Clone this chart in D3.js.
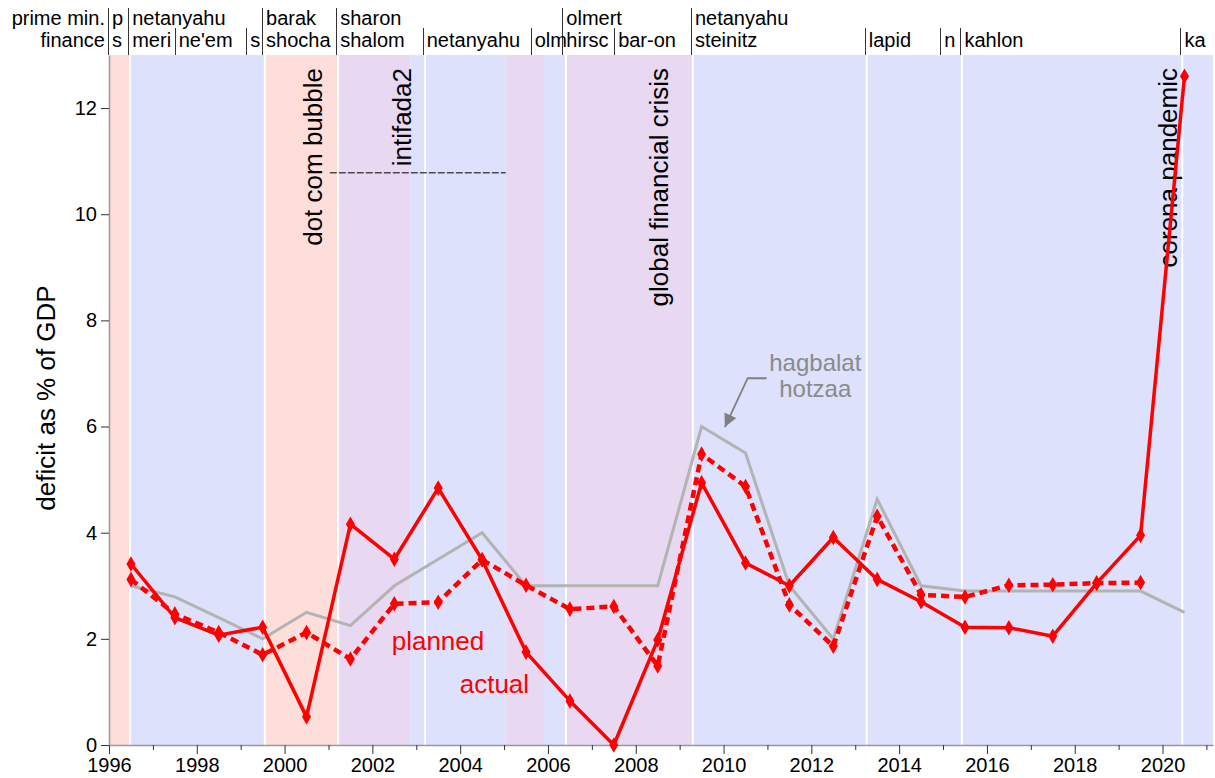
<!DOCTYPE html>
<html>
<head>
<meta charset="utf-8">
<script src="https://cdn.jsdelivr.net/npm/d3@7"></script>
<style>
  body { margin: 0; background: #fff; }
  svg { font-family: "Liberation Sans", Arial, sans-serif; }
</style>
</head>
<body>
<svg id="chart" width="1215" height="778"></svg>
<script>
// budget deficit in Israel, % of GDP, per year

// years of the data points
var years = d3.range(1996, 2021);

// actual deficit
var actual = [3.41, 2.40, 2.07, 2.22, 0.53, 4.16, 3.50, 4.84, 3.49, 1.75, 0.83, 0.00, 1.98,
              4.94, 3.43, 3.00, 3.91, 3.12, 2.70, 2.22, 2.21, 2.05, 3.05, 3.95, 12.6];

// planned deficit (budget) - no value for 2020
var planned = [3.12, 2.47, 2.12, 1.70, 2.12, 1.62, 2.66, 2.69, 3.49, 3.01, 2.56, 2.61, 1.49,
               5.48, 4.87, 2.64, 1.86, 4.31, 2.83, 2.79, 3.01, 3.02, 3.05, 3.06];

// deficit ceiling ("hagbalat hotzaa")
var ceiling = [3.0, 2.79, 2.40, 2.0, 2.5, 2.25, 3.0, 3.5, 4.0, 3.0, 3.0, 3.0, 3.0,
               6.0, 5.5, 3.0, 2.0, 4.63, 3.0, 2.9, 2.9, 2.9, 2.9, 2.9, 2.5];

// prime ministers (start date, name)
var pmStarts = [1996.0, 1996.46, 1999.51, 2001.2, 2006.35, 2009.28];
var pmNames  = ["p", "netanyahu", "barak", "sharon", "olmert", "netanyahu"];

// finance ministers (start date, name)
var finStarts = [1996.0, 1996.46, 1997.52, 1999.15, 1999.51, 2001.2, 2003.17, 2005.63,
                 2006.35, 2007.53, 2009.28, 2013.24, 2014.96, 2015.42, 2020.43];
var finNames  = ["s", "meri", "ne'em", "s", "shocha", "shalom", "netanyahu", "olm",
                 "hirsc", "bar-on", "steinitz", "lapid", "n", "kahlon", "ka"];

// background periods
var bandStarts = [1996.0, 1996.48, 1999.55, 2001.22, 2002.86, 2005.04, 2005.91, 2006.41, 2009.3];
var bandEnds   = [1996.48, 1999.55, 2001.22, 2002.86, 2005.04, 2005.91, 2006.41, 2009.3, 2021.15];
var bandKinds  = ["pink", "blue", "pink", "lav", "blue", "lav", "blue", "lav", "blue"];

// government changes (white lines)
var govChanges = [1996.48, 1999.55, 2001.22, 2003.2, 2006.41, 2009.3, 2013.26, 2015.43, 2020.45];

// events (vertical labels)
var eventNames = ["dot com bubble", "intifada2", "global financial crisis", "corona pandemic"];
var eventYears = [2000.85, 2002.87, 2008.74, 2020.33];

var yTicks = [0, 2, 4, 6, 8, 10, 12];

var colors = { pink: "#fddeda", blue: "#dde1fc", lav: "#e8d8f2" };

var svg = d3.select("#chart");

// scales
var x = d3.scaleLinear().domain([1996, 2021.15]).range([109, 1213]);
var y = d3.scaleLinear().domain([0, 13]).range([745, 55]);

// background bands
svg.append("g").selectAll("rect")
    .data(bandStarts)
    .enter().append("rect")
        .attr("x", function(d){ return x(d); })
        .attr("y", y(13))
        .attr("width", function(d, i){ return x(bandEnds[i]) - x(d); })
        .attr("height", y(0) - y(13))
        .attr("fill", function(d, i){ return colors[bandKinds[i]]; });

svg.append("g").selectAll("line")
    .data(govChanges)
    .enter().append("line")
        .attr("x1", function(d){ return x(d); })
        .attr("x2", function(d){ return x(d); })
        .attr("y1", y(13))
        .attr("y2", y(0))
        .attr("stroke", "#fff")
        .attr("stroke-width", 2);

// header: ministers
var head = svg.append("g").attr("font-size", "20px").attr("fill", "#000");

head.append("text").attr("x", 105).attr("y", 25).attr("text-anchor", "end").text("prime min.");
head.append("text").attr("x", 105).attr("y", 47).attr("text-anchor", "end").text("finance");

head.selectAll(".pmline")
    .data(pmStarts)
    .enter().append("line")
        .attr("class", "pmline")
        .attr("x1", function(d){ return Math.round(x(d)) - 0.5; })
        .attr("x2", function(d){ return Math.round(x(d)) - 0.5; })
        .attr("y1", 8).attr("y2", 55)
        .attr("stroke", "#333");

head.selectAll(".finline")
    .data(finStarts)
    .enter().append("line")
        .attr("class", "finline")
        .attr("x1", function(d){ return Math.round(x(d)) - 0.5; })
        .attr("x2", function(d){ return Math.round(x(d)) - 0.5; })
        .attr("y1", 28).attr("y2", 55)
        .attr("stroke", "#333");

head.selectAll(".pmname")
    .data(pmStarts)
    .enter().append("text")
        .attr("class", "pmname")
        .attr("x", function(d){ return x(d) + 3; })
        .attr("y", 25)
        .text(function(d, i){ return pmNames[i]; });

head.selectAll(".finname")
    .data(finStarts)
    .enter().append("text")
        .attr("class", "finname")
        .attr("x", function(d){ return x(d) + 3; })
        .attr("y", 47)
        .text(function(d, i){ return finNames[i]; });

// X Axis (major + minor ticks)
var xMajor = svg.append("g")
    .attr("transform", "translate(0," + y(0) + ")")
    .call(d3.axisBottom(x)
        .tickValues(d3.range(1996, 2022, 2))
        .tickFormat(d3.format("d"))
        .tickSize(9)
        .tickSizeOuter(0)
        .tickPadding(4));

var xMinor = svg.append("g")
    .attr("transform", "translate(0," + y(0) + ")")
    .call(d3.axisBottom(x)
        .tickValues(d3.range(1997, 2022, 2))
        .tickFormat("")
        .tickSize(5)
        .tickSizeOuter(0));
xMinor.select(".domain").remove();

// Y Axis
var yAxis = svg.append("g")
    .attr("transform", "translate(" + x(1996) + ",0)")
    .call(d3.axisLeft(y)
        .tickValues(yTicks)
        .tickSize(8)
        .tickSizeOuter(0)
        .tickPadding(4));

svg.selectAll(".domain").attr("stroke", "#999").attr("stroke-width", 1.5);
svg.selectAll(".tick line").attr("stroke", "#333");
svg.selectAll(".tick text").attr("font-size", "20px").attr("fill", "#000")
    .attr("font-family", "Liberation Sans, Arial, sans-serif");

// Y Label
svg.append("text")
    .attr("transform", "translate(55," + 398 + ") rotate(-90)")
    .attr("text-anchor", "middle")
    .attr("font-size", "26px")
    .text("deficit as % of GDP");

// events
svg.append("g").selectAll("text")
    .data(eventYears)
    .enter().append("text")
        .attr("transform", function(d){ return "translate(" + x(d) + ",68) rotate(-90)"; })
        .attr("text-anchor", "end")
        .attr("font-size", "26px")
        .text(function(d, i){ return eventNames[i]; });

// intifada dashed marker
svg.append("line")
    .attr("x1", x(2001.03)).attr("x2", x(2005.04))
    .attr("y1", y(10.78)).attr("y2", y(10.78))
    .attr("stroke", "#000")
    .attr("stroke-width", 1)
    .attr("stroke-dasharray", "7,2");

// lines
var line = d3.line()
    .x(function(d){ return x(d[0] + 0.5); })
    .y(function(d){ return y(d[1]); });

var ceilingPts = years.map(function(yr, i){ return [yr, ceiling[i]]; });
var plannedPts = planned.map(function(v, i){ return [years[i], v]; });
var actualPts  = years.map(function(yr, i){ return [yr, actual[i]]; });

svg.append("path")
    .attr("d", line(ceilingPts))
    .attr("fill", "none")
    .attr("stroke", "#b3b3b3")
    .attr("stroke-width", 3);

svg.append("path")
    .attr("d", line(plannedPts))
    .attr("fill", "none")
    .attr("stroke", "#ff0000")
    .attr("stroke-width", 4.5)
    .attr("stroke-dasharray", "8,5");

svg.append("path")
    .attr("d", line(actualPts))
    .attr("fill", "none")
    .attr("stroke", "#ff0000")
    .attr("stroke-width", 3.5)
    .attr("stroke-linejoin", "round");

var diamond = d3.symbol().type(d3.symbolDiamond).size(70);

svg.append("g").selectAll("path")
    .data(plannedPts.concat(actualPts))
    .enter().append("path")
        .attr("d", diamond)
        .attr("transform", function(d){ return "translate(" + x(d[0] + 0.5) + "," + y(d[1]) + ")"; })
        .attr("fill", "#ff0000");

// labels for series
svg.append("text")
    .attr("x", x(2002.44)).attr("y", y(1.79))
    .attr("font-size", "26px").attr("fill", "#ff0000")
    .text("planned");

svg.append("text")
    .attr("x", x(2003.99)).attr("y", y(0.98))
    .attr("font-size", "26px").attr("fill", "#ff0000")
    .text("actual");

svg.append("text")
    .attr("x", x(2012.09)).attr("y", y(7.05))
    .attr("text-anchor", "middle")
    .attr("font-size", "24px").attr("fill", "#8a8a8a")
    .text("hagbalat");

svg.append("text")
    .attr("x", x(2012.09)).attr("y", y(6.55))
    .attr("text-anchor", "middle")
    .attr("font-size", "24px").attr("fill", "#8a8a8a")
    .text("hotzaa");

// arrow from label to ceiling line
svg.append("defs").append("marker")
    .attr("id", "arrow")
    .attr("viewBox", "0 0 10 10")
    .attr("refX", 10).attr("refY", 5)
    .attr("markerWidth", 14).attr("markerHeight", 13)
    .attr("markerUnits", "userSpaceOnUse")
    .attr("orient", "auto")
  .append("path")
    .attr("d", "M0,0 L10,5 L0,10 z")
    .attr("fill", "#808080");

svg.append("path")
    .attr("d", d3.line()([[x(2010.98), y(6.91)], [x(2010.55), y(6.91)], [x(2010.03), y(5.99)]]))
    .attr("fill", "none")
    .attr("stroke", "#808080")
    .attr("stroke-width", 1.8)
    .attr("marker-end", "url(#arrow)");
</script>
</body>
</html>
